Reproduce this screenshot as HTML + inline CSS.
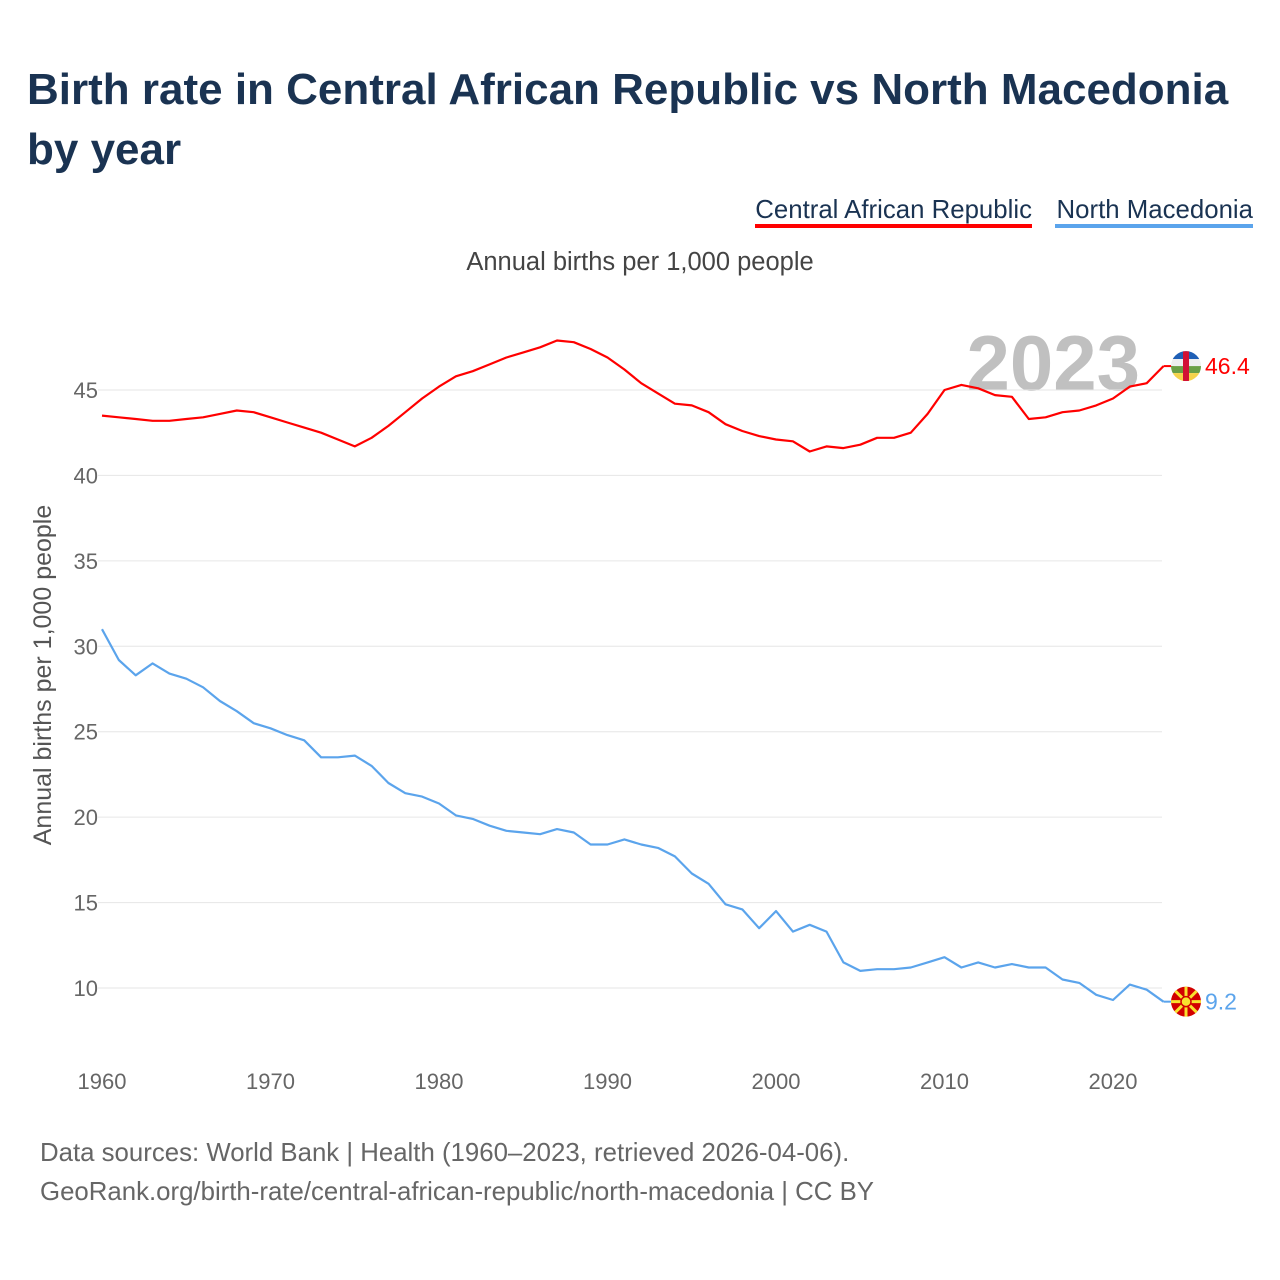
<!DOCTYPE html>
<html><head><meta charset="utf-8"><style>
body{margin:0;background:#fff;font-family:"Liberation Sans",sans-serif}
#wrap{position:relative;width:1280px;height:1280px;overflow:hidden}
</style></head><body>
<div id="wrap">
<svg id="chart" width="1280" height="1280">
<text x="27" y="104" font-size="44" font-weight="bold" fill="#1a3352">Birth rate in Central African Republic vs North Macedonia</text>
<text x="27" y="164" font-size="44" font-weight="bold" fill="#1a3352">by year</text>
<g><text x="1032" y="218" font-size="25.8" text-anchor="end" fill="#1a3352">Central African Republic</text><rect x="755" y="224" width="277" height="4" fill="#ff0000"/></g>
<g><text x="1253" y="218" font-size="25.8" text-anchor="end" fill="#1a3352">North Macedonia</text><rect x="1055" y="224" width="198" height="4" fill="#5ba4ec"/></g>
<text x="640" y="270" font-size="25.5" text-anchor="middle" fill="#444">Annual births per 1,000 people</text>
<text transform="translate(51,675) rotate(-90)" font-size="25" text-anchor="middle" fill="#555">Annual births per 1,000 people</text>
<text x="1140" y="390" font-size="78" font-weight="bold" text-anchor="end" fill="#c0c0c0">2023</text>
<g id="grid"></g><g id="lines"></g><g id="marks"></g>
<text x="40" y="1161" font-size="25.8" fill="#666">Data sources: World Bank | Health (1960–2023, retrieved 2026-04-06).</text>
<text x="40" y="1200" font-size="25.8" fill="#666">GeoRank.org/birth-rate/central-african-republic/north-macedonia | CC BY</text>
</svg></div>
<script>
const years=[];for(let y=1960;y<=2023;y++)years.push(y);
const carValues=[43.5,43.4,43.3,43.2,43.2,43.3,43.4,43.6,43.8,43.7,43.4,43.1,42.8,42.5,42.1,41.7,42.2,42.9,43.7,44.5,45.2,45.8,46.1,46.5,46.9,47.2,47.5,47.9,47.8,47.4,46.9,46.2,45.4,44.8,44.2,44.1,43.7,43.0,42.6,42.3,42.1,42.0,41.4,41.7,41.6,41.8,42.2,42.2,42.5,43.6,45.0,45.3,45.1,44.7,44.6,43.3,43.4,43.7,43.8,44.1,44.5,45.2,45.4,46.4];
const mkdValues=[31.0,29.2,28.3,29.0,28.4,28.1,27.6,26.8,26.2,25.5,25.2,24.8,24.5,23.5,23.5,23.6,23.0,22.0,21.4,21.2,20.8,20.1,19.9,19.5,19.2,19.1,19.0,19.3,19.1,18.4,18.4,18.7,18.4,18.2,17.7,16.7,16.1,14.9,14.6,13.5,14.5,13.3,13.7,13.3,11.5,11.0,11.1,11.1,11.2,11.5,11.8,11.2,11.5,11.2,11.4,11.2,11.2,10.5,10.3,9.6,9.3,10.2,9.9,9.2];
const yTicks=[10,15,20,25,30,35,40,45];
const xTicks=[1960,1970,1980,1990,2000,2010,2020];
const X=y=>102+(y-1960)*(1113-102)/60;
const Y=v=>988-(v-10)*(988-390)/35;
const NS='http://www.w3.org/2000/svg';
function el(t,a,p){const e=document.createElementNS(NS,t);for(const k in a)e.setAttribute(k,a[k]);document.getElementById(p).appendChild(e);return e;}
yTicks.forEach(v=>{
 const l=el('line',{x1:98,x2:1162,y1:Y(v),y2:Y(v),stroke:'#e6e6e6','stroke-width':1},'grid');
 
 
 const t=el('text',{x:98,y:Y(v)+8,'font-size':22,'text-anchor':'end',fill:'#666'},'grid');t.textContent=v;
 
 
});
xTicks.forEach(v=>{
 const t=el('text',{x:X(v),y:1089,'font-size':22,'text-anchor':'middle',fill:'#666'},'grid');t.textContent=v;
 
 
});
function line(vals,color,name){
 const d=vals.map((v,i)=>(i?'L':'M')+X(years[i]).toFixed(1)+','+Y(v).toFixed(1)).join('');
 const p=el('path',{d:d,fill:'none',stroke:color,'stroke-width':2.2,'stroke-linejoin':'round'},'lines');
 
 
}
line(carValues,'#ff0000','car-line');
line(mkdValues,'#5ba4ec','north-macedonia-line');
const lastC=carValues[carValues.length-1],lastM=mkdValues[mkdValues.length-1];
const xe=X(2023);
el('line',{x1:xe,x2:xe+10,y1:Y(lastC),y2:Y(lastC),stroke:'#f00','stroke-width':2},'marks');
el('line',{x1:xe,x2:xe+10,y1:Y(lastM),y2:Y(lastM),stroke:'#5ba4ec','stroke-width':2},'marks');
const cy=Y(lastC),cx=1186;
const g1=el('g',{},'marks');


g1.innerHTML=`<clipPath id="cc"><circle cx="${cx}" cy="${cy}" r="15"/></clipPath><g clip-path="url(#cc)"><rect x="${cx-15}" y="${cy-15}" width="30" height="8" fill="#1f5fb5"/><rect x="${cx-15}" y="${cy-7}" width="30" height="7" fill="#eee"/><rect x="${cx-15}" y="${cy}" width="30" height="7" fill="#6a9f45"/><rect x="${cx-15}" y="${cy+7}" width="30" height="8" fill="#f5d34a"/><rect x="${cx-3}" y="${cy-15}" width="6" height="30" fill="#d21034"/></g>`;
const cm=Y(lastM);
const g2=el('g',{},'marks');


let rays='';for(let i=0;i<8;i++){const a=i*Math.PI/4;rays+=`<line x1="${cx}" y1="${cm}" x2="${cx+20*Math.cos(a)}" y2="${cm+20*Math.sin(a)}" stroke="#f8e12e" stroke-width="3"/>`;}
g2.innerHTML=`<clipPath id="cm"><circle cx="${cx}" cy="${cm}" r="15"/></clipPath><g clip-path="url(#cm)"><rect x="${cx-15}" y="${cm-15}" width="30" height="30" fill="#d20000"/>${rays}<circle cx="${cx}" cy="${cm}" r="5" fill="#f8e12e" stroke="#d20000" stroke-width="1.5"/></g>`;
const tc=el('text',{x:1205,y:cy+8,'font-size':23,fill:'#ff0000'},'marks');tc.textContent=lastC.toFixed(1);


const tm=el('text',{x:1205,y:cm+8,'font-size':23,fill:'#5ba4ec'},'marks');tm.textContent=lastM.toFixed(1);


</script>
</body></html>
